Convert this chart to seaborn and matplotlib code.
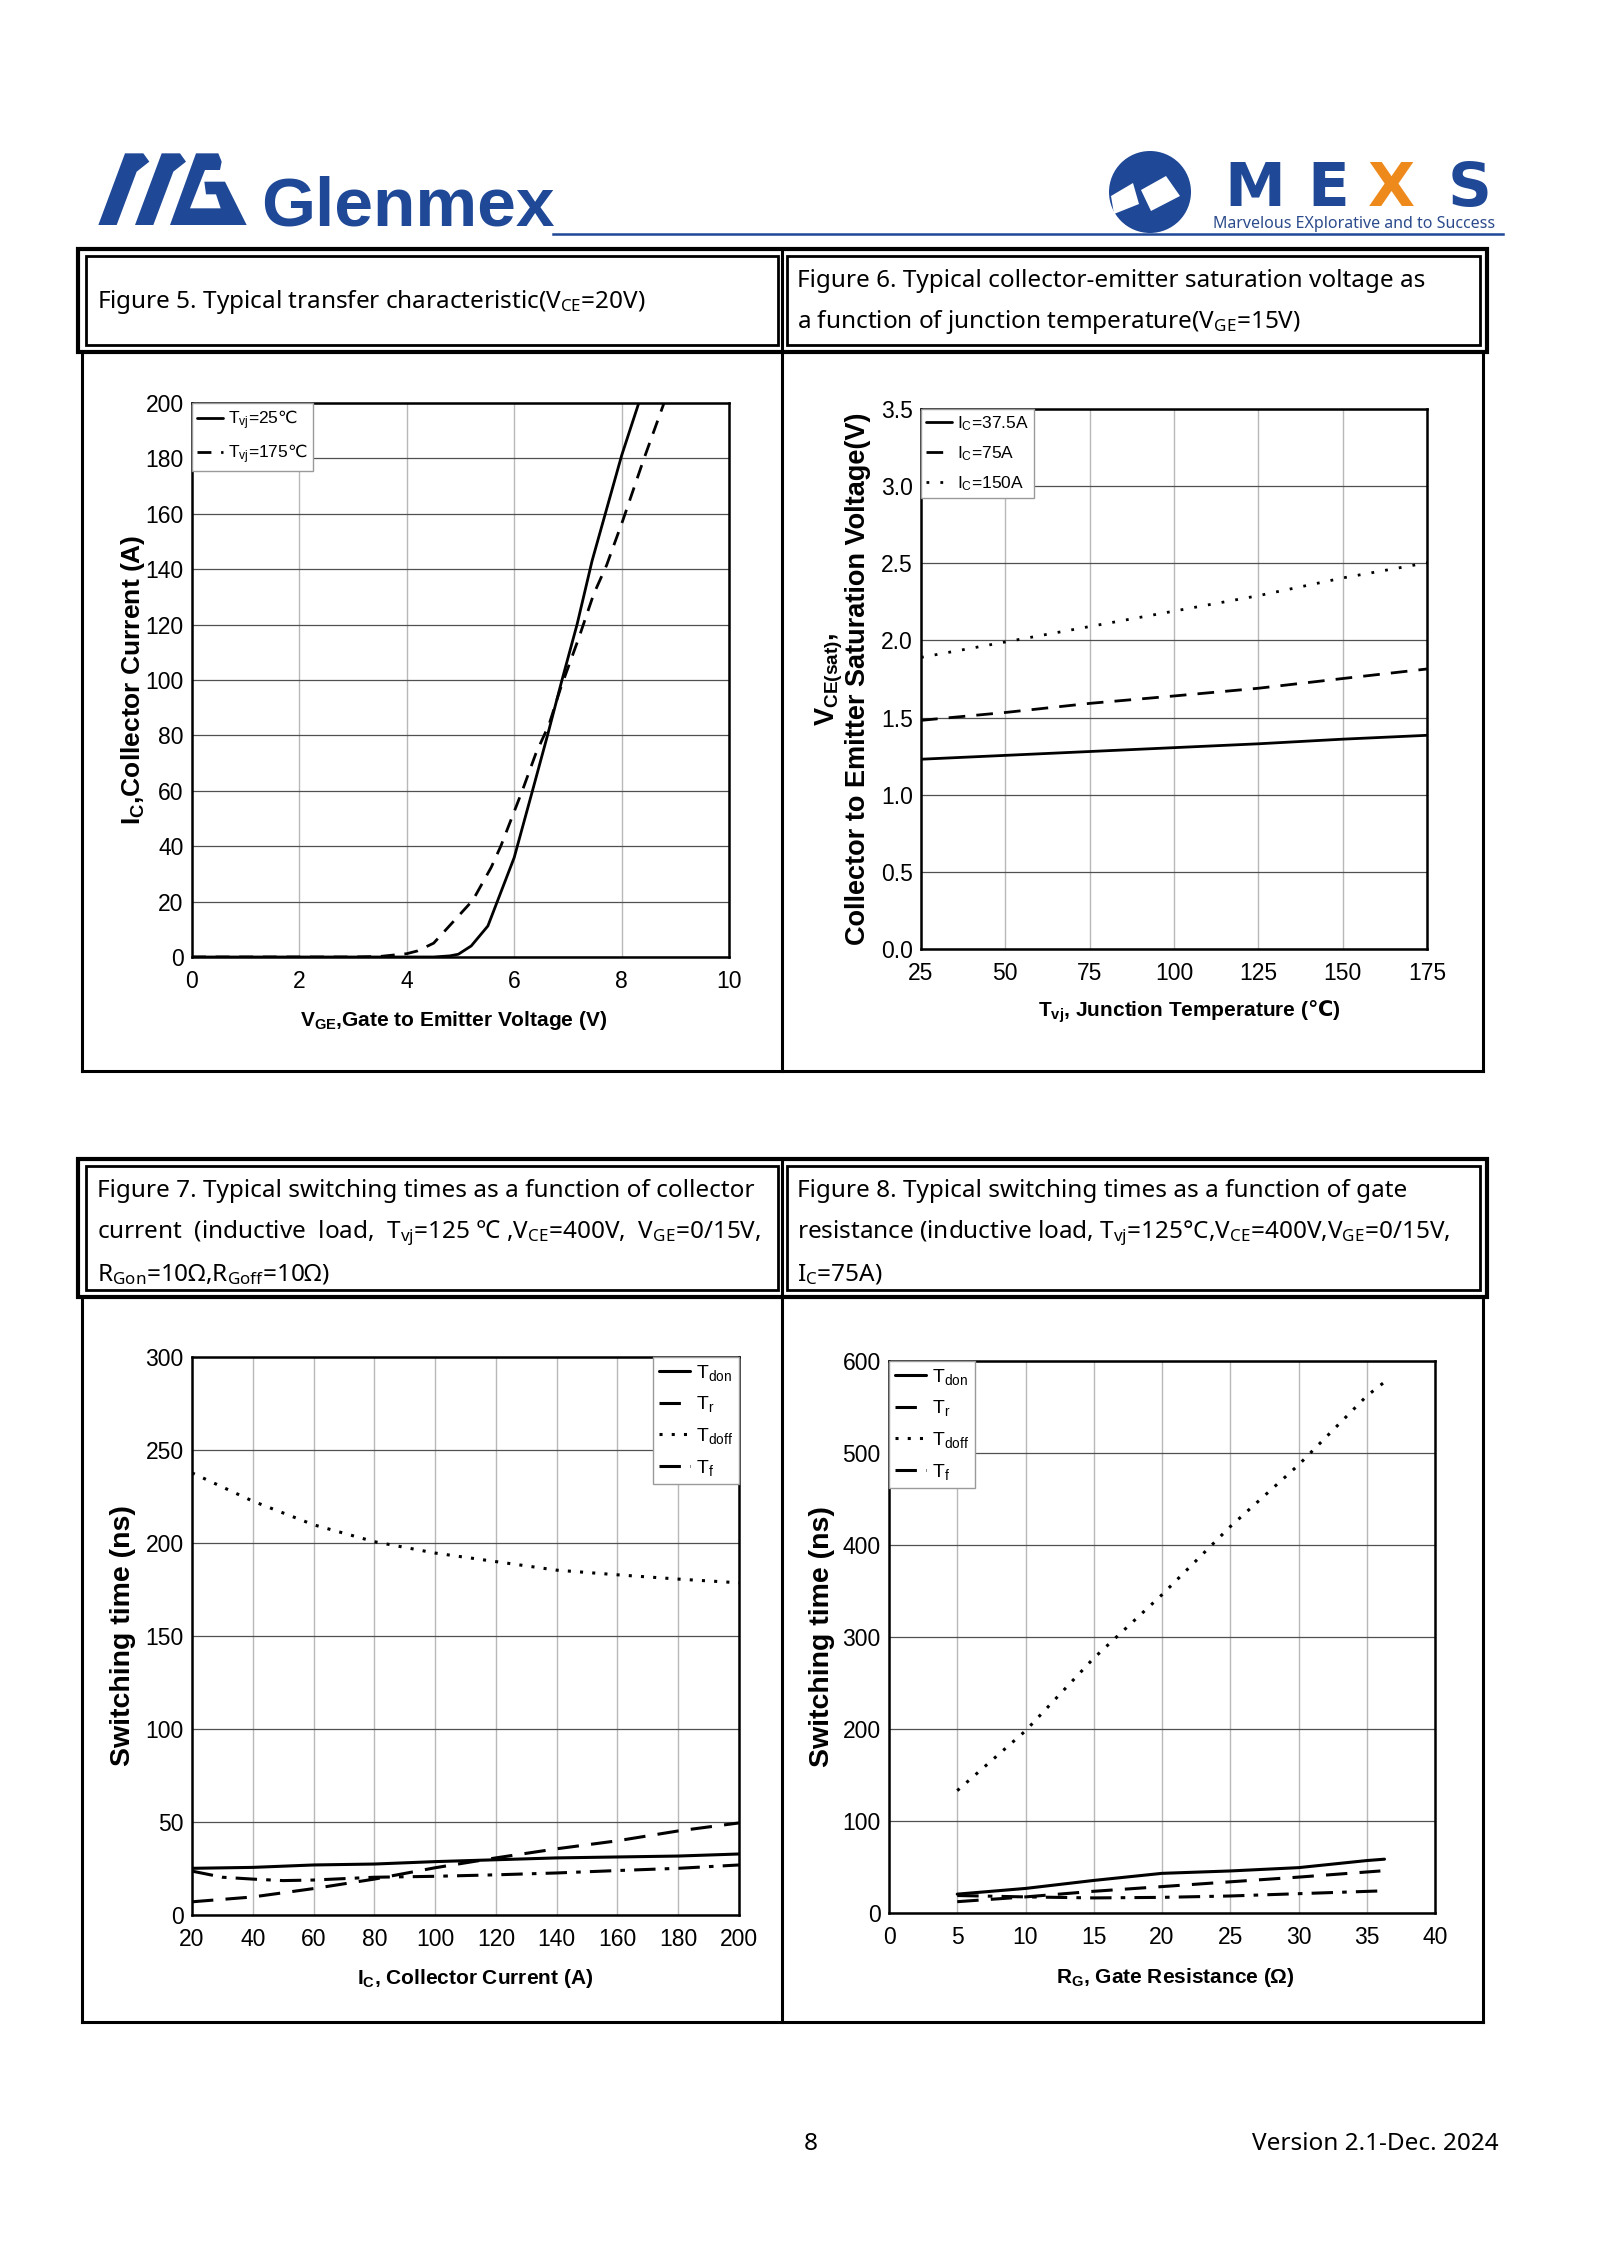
import numpy as np
import pandas as pd
import matplotlib
matplotlib.use("Agg")
import matplotlib.pyplot as plt
import seaborn as sns
from matplotlib import font_manager as fm
from matplotlib.patches import Polygon, Circle, Rectangle

# ---------------- data ----------------
# Figure 5: transfer characteristic
fig5_vge_25 = [0, 1, 2, 3, 4, 4.5, 4.8, 4.96, 5.2, 5.51, 6.0, 6.34, 6.62, 6.89, 7.17, 7.45, 8.0, 8.32]
fig5_ic_25 = [0, 0, 0, 0, 0, 0, 0.4, 1.0, 4.0, 11.2, 35.9, 60, 80, 100, 120, 143, 181, 200]
fig5_vge_175 = [0, 1, 2, 3, 3.5, 3.9, 4.0, 4.2, 4.5, 4.83, 5.23, 5.57, 5.75, 6.15, 6.4, 6.65, 6.86,
                7.2, 7.48, 7.72, 8.03, 8.4, 8.79]
fig5_ic_175 = [0, 0, 0, 0, 0.2, 1.0, 1.2, 2.2, 5, 12, 20.5, 32.3, 40, 60, 73.3, 84, 96.8,
               115, 131, 141.4, 158, 179, 200]
fig5_labels = ["T$_{vj}$=25$\\mathrm{℃}$", "T$_{vj}$=175$\\mathrm{℃}$"]

# Figure 6: VCE(sat) vs junction temperature
fig6_tvj = [25, 50, 75, 100, 125, 150, 175]
fig6_v_375 = [1.23, 1.255, 1.28, 1.305, 1.33, 1.36, 1.385]
fig6_v_75 = [1.482, 1.533, 1.592, 1.64, 1.69, 1.753, 1.815]
fig6_v_150 = [1.89, 1.99, 2.09, 2.19, 2.29, 2.405, 2.503]
fig6_labels = ["I$_{C}$=37.5A", "I$_{C}$=75A", "I$_{C}$=150A"]

# Figure 7: switching times vs collector current
fig7_ic = [20, 40, 60, 80, 100, 120, 140, 160, 180, 200]
fig7_tdon = [25.1, 25.6, 26.9, 27.4, 28.7, 29.7, 30.7, 31.2, 31.7, 32.8]
fig7_tr = [7.1, 9.7, 14.2, 19.3, 25.4, 30.7, 35.6, 39.9, 45.2, 49.5]
fig7_tdoff = [237.7, 222.5, 209.8, 200.7, 194.6, 190.0, 185.4, 182.9, 180.6, 178.6]
fig7_tf_ic = [20, 30, 40, 50, 60, 80, 100, 120, 140, 160, 180, 200]
fig7_tf = [23.6, 20.3, 19.3, 18.5, 18.8, 20.3, 20.8, 21.6, 22.6, 23.9, 25.1, 26.9]

# Figure 8: switching times vs gate resistance
fig8_rg_don = [5, 10, 15, 20, 25, 30, 35, 36.3]
fig8_tdon = [20.5, 26.7, 35.4, 43.1, 45.7, 49.3, 57.0, 58.5]
fig8_rg_r = [5, 10, 15, 20, 25, 30, 36]
fig8_tr = [12.3, 17.5, 23.6, 28.7, 33.9, 39.0, 45.7]
fig8_rg_doff = [5, 10, 15, 20, 25, 30, 35, 36.2]
fig8_tdoff = [133, 198, 277, 346, 420, 487, 562, 576]
fig8_rg_f = [5, 10, 15, 20, 25, 30, 36]
fig8_tf = [19.0, 17.5, 16.4, 17.0, 18.5, 21.0, 24.0]
sw_labels = ["T$_{don}$", "T$_{r}$", "T$_{doff}$", "T$_{f}$"]

# ---------------- fonts / theme ----------------
sns.set_theme(style="white")
names = {f.name for f in fm.fontManager.ttflist}
if "Liberation Sans Narrow" in names:
    NARROW, NS = "Liberation Sans Narrow", 1.0
else:
    NARROW, NS = "Liberation Sans", 0.84
NARROW_FAM = [NARROW, "DejaVu Sans"]
WIDE_FAM = ["Liberation Sans", "DejaVu Sans"]
CAP_FAM = ["Noto Sans", "DejaVu Sans"]
plt.rcParams["font.family"] = NARROW_FAM
plt.rcParams["mathtext.fontset"] = "custom"
plt.rcParams["mathtext.rm"] = "DejaVu Sans"
plt.rcParams["mathtext.it"] = "DejaVu Sans:italic"
plt.rcParams["mathtext.bf"] = "DejaVu Sans:bold"
plt.rcParams["mathtext.default"] = "regular"

BLUE = "#1f4897"
W, H = 1600, 2263
fig = plt.figure(figsize=(W / 100, H / 100), dpi=100)
fig.patch.set_facecolor("white")

# ---------------- page decorations ----------------
page = fig.add_axes([0, 0, 1, 1])
page.set_xlim(0, W)
page.set_ylim(H, 0)
page.axis("off")


def line(x0, y0, x1, y1, lw=2.2, color="black"):
    page.plot([x0, x1], [y0, y1], color=color, lw=lw, solid_capstyle="projecting")


def rect(x0, y0, x1, y1, lw):
    page.add_patch(Rectangle((x0, y0), x1 - x0, y1 - y0, fill=False, ec="black", lw=lw))


def logo_poly(pts, color):
    # pts given in a local 3x grid anchored at (90, 145)
    page.add_patch(Polygon([(90 + x / 3, 145 + y / 3) for x, y in pts], closed=True, color=color, lw=0))


# Glenmex logo mark
logo_poly([(25, 240), (80, 240), (140, 80), (178, 50), (160, 25), (105, 25)], BLUE)
logo_poly([(135, 240), (190, 240), (250, 80), (288, 50), (270, 25), (215, 25)], BLUE)
logo_poly([(240, 240), (470, 240), (405, 110), (343, 110), (348, 148), (378, 148), (392, 190),
           (300, 190), (345, 75), (390, 75), (395, 50), (385, 25), (318, 25)], BLUE)
page.text(261, 226, "Glenmex", fontsize=50, fontweight="bold", family=NARROW_FAM,
          color=BLUE, ha="left", va="baseline")
line(553, 234, 1503, 234, lw=1.8, color=BLUE)

# MEXS logo
page.add_patch(Circle((1150, 192), 41, color=BLUE, lw=0))
page.add_patch(Polygon([(1111, 196), (1133, 183), (1139, 204), (1114, 214)], closed=True, color="white", lw=0))
page.add_patch(Polygon([(1141, 190), (1166, 176), (1180, 196), (1151, 211)], closed=True, color="white", lw=0))
for ch, cx, col in (("M", 1255, BLUE), ("E", 1328, BLUE), ("X", 1391, "#ee8a1c"), ("S", 1470, BLUE)):
    page.text(cx, 206, ch, fontsize=44, fontweight="bold", family=["DejaVu Sans"],
              color=col, ha="center", va="baseline")
page.text(1213, 228, "Marvelous EXplorative and to Success", fontsize=11.5,
          fontweight="semibold", family=CAP_FAM, color="#2b4b8c", ha="left", va="baseline")

# Tables
for (top, hdr, bot) in ((249, 352, 1071), (1159, 1297, 2022)):
    rect(78, top, 1487, hdr, 3.0)
    rect(86, top + 7, 778, hdr - 7, 2.0)
    rect(787, top + 7, 1480, hdr - 7, 2.0)
    line(82, hdr, 82, bot)
    line(1483, hdr, 1483, bot)
    line(782, top, 782, bot)
    line(82, bot, 1483, bot)

CAP_FS = 17.5
page.text(97, 302, "Figure 5. Typical transfer characteristic(V$_{CE}$=20V)",
          fontsize=CAP_FS, family=CAP_FAM, va="center", ha="left", color="black")
page.text(797, 281, "Figure 6. Typical collector-emitter saturation voltage as",
          fontsize=CAP_FS, family=CAP_FAM, va="center", ha="left", color="black")
page.text(797, 322, "a function of junction temperature(V$_{GE}$=15V)",
          fontsize=CAP_FS, family=CAP_FAM, va="center", ha="left", color="black")
fig7_cap = ["Figure 7. Typical switching times as a function of collector",
            "current  (inductive  load,  T$_{vj}$=125 ℃ ,V$_{CE}$=400V,  V$_{GE}$=0/15V,",
            "R$_{Gon}$=10Ω,R$_{Goff}$=10Ω)"]
fig8_cap = ["Figure 8. Typical switching times as a function of gate",
            "resistance (inductive load, T$_{vj}$=125°C,V$_{CE}$=400V,V$_{GE}$=0/15V,",
            "I$_{C}$=75A)"]
for i, (a, b) in enumerate(zip(fig7_cap, fig8_cap)):
    yy = 1191 + i * 42
    page.text(97, yy, a, fontsize=CAP_FS, family=CAP_FAM, va="center", ha="left", color="black")
    page.text(797, yy, b, fontsize=CAP_FS, family=CAP_FAM, va="center", ha="left", color="black")

page.text(811, 2144, "8", fontsize=17.5, family=CAP_FAM, ha="center", va="center", color="black")
page.text(1499, 2144, "Version 2.1-Dec. 2024", fontsize=17.5, family=CAP_FAM,
          ha="right", va="center", color="black")


# ---------------- charts ----------------
def px_axes(l, t, r, b):
    return fig.add_axes([l / W, 1 - b / H, (r - l) / W, (b - t) / H])


def style(ax, xlim, xticks, ylim, yticks):
    ax.set_xlim(*xlim)
    ax.set_ylim(*ylim)
    ax.set_xticks(xticks)
    ax.set_yticks(yticks)
    ax.xaxis.grid(True, color="#b8b8b8", lw=1.0)
    ax.yaxis.grid(True, color="#505050", lw=0.9)
    ax.set_axisbelow(True)
    ax.set_facecolor("white")
    for s in ax.spines.values():
        s.set_visible(True)
        s.set_color("black")
        s.set_linewidth(1.8)
    ax.tick_params(length=0, labelsize=16.5, labelcolor="black")
    ax.tick_params(axis="x", pad=9)
    ax.tick_params(axis="y", pad=6)


def legend(ax, loc, anchor, fs, spacing, hl=1.6):
    leg = ax.legend(loc=loc, bbox_to_anchor=anchor, borderaxespad=0, frameon=True,
                    fancybox=False, edgecolor="#9a9a9a", framealpha=1, fontsize=fs,
                    handlelength=hl, handletextpad=0.3, labelspacing=spacing, borderpad=0.3)
    leg.get_frame().set_linewidth(1.0)
    for t in leg.get_texts():
        t.set_color("black")


def xlab(ax, text, x, y):
    ax.set_xlabel(text, fontsize=15, fontweight="bold", family=NARROW_FAM, va="center", color="black")
    ax.xaxis.set_label_coords(x, y)


def ylab(ax, text, x, fs, fam):
    ax.set_ylabel(text, fontsize=fs, fontweight="bold", family=fam, va="center",
                  ha="center", color="black", linespacing=1.0)
    ax.yaxis.set_label_coords(x, 0.5)


DASH = (0, (5, 3.5))
DOT = (0, (1, 3))
DASHDOT = (0, (7, 3, 1.5, 3))

# Figure 5
ax5 = px_axes(192, 403, 729, 957)
sns.lineplot(x=fig5_vge_25, y=fig5_ic_25, ax=ax5, color="black", lw=2.0, label=fig5_labels[0], sort=False)
sns.lineplot(x=fig5_vge_175, y=fig5_ic_175, ax=ax5, color="black", lw=2.0, linestyle=DASH,
             label=fig5_labels[1], sort=False)
style(ax5, (0, 10), np.arange(0, 11, 2), (0, 200), np.arange(0, 201, 20))
legend(ax5, "upper left", (0, 1), 12.5, 0.6, 1.5)
xlab(ax5, "V$_{GE}$,Gate to Emitter Voltage (V)", 0.487, -0.114)
ylab(ax5, "I$_{C}$,Collector Current (A)", -0.11, 19, WIDE_FAM)

# Figure 6
ax6 = px_axes(921, 409, 1427, 949)
sns.lineplot(x=fig6_tvj, y=fig6_v_375, ax=ax6, color="black", lw=2.0, label=fig6_labels[0])
sns.lineplot(x=fig6_tvj, y=fig6_v_75, ax=ax6, color="black", lw=2.0, linestyle=(0, (6, 4)), label=fig6_labels[1])
sns.lineplot(x=fig6_tvj, y=fig6_v_150, ax=ax6, color="black", lw=2.0, linestyle=(0, (1, 4)), label=fig6_labels[2])
style(ax6, (25, 175), np.arange(25, 176, 25), (0, 3.5), np.arange(0, 3.51, 0.5))
ax6.set_yticklabels([f"{v:.1f}" for v in np.arange(0, 3.51, 0.5)])
legend(ax6, "upper left", (0, 1), 12.5, 0.65, 1.5)
xlab(ax6, "T$_{vj}$, Junction Temperature ($\\mathbf{℃}$)", 0.53, -0.115)
ylab(ax6, "V$_{CE(sat)}$,\nCollector to Emitter Saturation Voltage(V)", -0.155, 19.5, WIDE_FAM)

# Figure 7
ax7 = px_axes(192, 1357, 739, 1915)
sns.lineplot(x=fig7_ic, y=fig7_tdon, ax=ax7, color="black", lw=2.2, label=sw_labels[0])
sns.lineplot(x=fig7_ic, y=fig7_tr, ax=ax7, color="black", lw=2.2, linestyle=(0, (7, 4)), label=sw_labels[1])
sns.lineplot(x=fig7_ic, y=fig7_tdoff, ax=ax7, color="black", lw=2.2, linestyle=DOT, label=sw_labels[2])
sns.lineplot(x=fig7_tf_ic, y=fig7_tf, ax=ax7, color="black", lw=2.2, linestyle=DASHDOT, label=sw_labels[3])
style(ax7, (20, 200), np.arange(20, 201, 20), (0, 300), np.arange(0, 301, 50))
legend(ax7, "upper right", (1, 1), 14, 0.6, 1.6)
xlab(ax7, "I$_{C}$, Collector Current (A)", 0.517, -0.113)
ylab(ax7, "Switching time (ns)", -0.126, 20.5, WIDE_FAM)

# Figure 8
ax8 = px_axes(889, 1361, 1435, 1913)
sns.lineplot(x=fig8_rg_don, y=fig8_tdon, ax=ax8, color="black", lw=2.2, label=sw_labels[0])
sns.lineplot(x=fig8_rg_r, y=fig8_tr, ax=ax8, color="black", lw=2.2, linestyle=(0, (7, 4)), label=sw_labels[1])
sns.lineplot(x=fig8_rg_doff, y=fig8_tdoff, ax=ax8, color="black", lw=2.2, linestyle=DOT, label=sw_labels[2])
sns.lineplot(x=fig8_rg_f, y=fig8_tf, ax=ax8, color="black", lw=2.2, linestyle=DASHDOT, label=sw_labels[3])
style(ax8, (0, 40), np.arange(0, 41, 5), (0, 600), np.arange(0, 601, 100))
legend(ax8, "upper left", (0, 1), 14, 0.6, 1.6)
xlab(ax8, "R$_{G}$, Gate Resistance (Ω)", 0.524, -0.116)
ylab(ax8, "Switching time (ns)", -0.122, 20.5, WIDE_FAM)

fig.savefig("out.png", dpi=100, facecolor="white")
